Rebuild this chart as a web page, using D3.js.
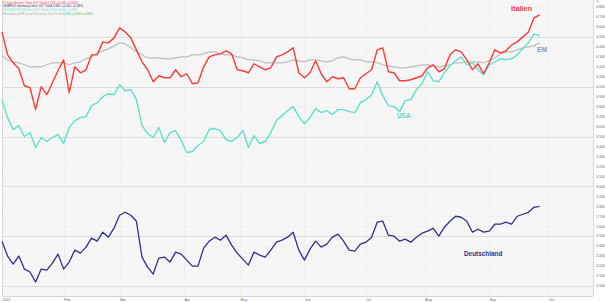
<!DOCTYPE html>
<html><head><meta charset="utf-8">
<script src="https://cdn.jsdelivr.net/npm/d3@7"></script>
<style>html,body{margin:0;padding:0;background:#fff}svg{display:block;font-family:"Liberation Sans",Arial,sans-serif}</style>
</head><body><svg id="c" width="605" height="302"></svg>
<script>
// Values sampled every second business day from 2 Jan 2023
const italy=[4.55,4.32,4.24,4.18,4.01,3.99,3.77,4.00,3.92,4.04,4.16,4.27,3.94,4.20,4.14,4.17,4.32,4.32,4.45,4.44,
4.49,4.59,4.55,4.49,4.37,4.25,4.17,4.05,4.11,4.09,4.09,4.17,4.10,4.13,4.03,4.04,4.20,4.30,4.32,4.33,
4.36,4.33,4.17,4.16,4.14,4.23,4.20,4.17,4.19,4.30,4.32,4.35,4.39,4.14,4.09,4.14,4.26,4.13,4.05,4.10,
4.08,4.09,3.98,3.98,4.09,4.13,4.17,4.37,4.39,4.15,4.14,4.06,4.06,4.07,4.09,4.11,4.19,4.22,4.15,4.18,
4.32,4.37,4.35,4.27,4.17,4.23,4.13,4.24,4.37,4.34,4.36,4.42,4.45,4.50,4.55,4.69,4.72];
const usa=[3.87,3.69,3.57,3.61,3.50,3.54,3.39,3.49,3.45,3.49,3.52,3.43,3.59,3.66,3.69,3.70,3.81,3.84,3.90,3.93,
3.92,4.02,3.96,3.97,3.87,3.61,3.53,3.49,3.59,3.44,3.54,3.56,3.46,3.34,3.35,3.41,3.45,3.57,3.58,3.56,
3.47,3.45,3.49,3.56,3.39,3.51,3.43,3.45,3.54,3.66,3.71,3.76,3.80,3.70,3.63,3.69,3.78,3.74,3.76,3.72,
3.77,3.77,3.75,3.74,3.84,3.87,3.92,4.05,3.91,3.81,3.80,3.75,3.86,3.87,3.97,4.03,4.15,4.06,4.05,4.14,
4.21,4.26,4.30,4.22,4.24,4.17,4.12,4.22,4.25,4.28,4.27,4.28,4.32,4.38,4.44,4.53,4.51];
const em=[4.31,4.27,4.25,4.24,4.22,4.20,4.20,4.20,4.22,4.24,4.24,4.24,4.22,4.24,4.25,4.28,4.30,4.34,4.36,4.38,
4.41,4.44,4.43,4.39,4.35,4.32,4.29,4.29,4.29,4.28,4.28,4.29,4.30,4.30,4.32,4.32,4.33,4.35,4.35,4.33,
4.32,4.32,4.30,4.29,4.27,4.27,4.26,4.24,4.24,4.24,4.24,4.25,4.27,4.26,4.25,4.27,4.27,4.26,4.25,4.26,
4.29,4.30,4.28,4.27,4.27,4.25,4.25,4.24,4.22,4.21,4.20,4.19,4.19,4.20,4.21,4.22,4.22,4.21,4.20,4.21,
4.22,4.24,4.24,4.25,4.25,4.25,4.24,4.26,4.29,4.33,4.35,4.35,4.37,4.39,4.40,4.41,4.44];
const germany=[2.45,2.30,2.22,2.30,2.17,2.14,2.04,2.17,2.16,2.23,2.32,2.17,2.24,2.36,2.33,2.39,2.48,2.45,2.54,2.49,
2.58,2.71,2.74,2.71,2.65,2.29,2.19,2.12,2.28,2.29,2.24,2.34,2.32,2.26,2.20,2.20,2.38,2.45,2.49,2.46,
2.51,2.41,2.33,2.27,2.21,2.34,2.31,2.29,2.36,2.44,2.46,2.49,2.54,2.36,2.26,2.37,2.45,2.39,2.42,2.49,
2.52,2.45,2.36,2.35,2.42,2.44,2.49,2.64,2.65,2.51,2.50,2.45,2.47,2.44,2.49,2.53,2.55,2.58,2.50,2.59,
2.65,2.70,2.69,2.65,2.54,2.57,2.54,2.55,2.62,2.62,2.64,2.62,2.70,2.72,2.74,2.79,2.80];
const monthLabels=["2023","Feb","Mar","Apr","May","Jun","Jul","Aug","Sep","Oct"];
const yTickLabels=["4.800","4.700","4.600","4.500","4.400","4.300","4.200","4.100","4.000","3.900","3.800","3.700","3.600","3.500","3.400","3.300","3.200","3.100","3.000","2.900","2.800","2.700","2.600","2.500","2.400","2.300","2.200","2.100","2.000"];
const majorTicks=["4.500","4.000","3.500","3.000","2.500","2.000"];
const legendNames=["IT Italy Generic Govt 10Y Yield","GDBR10 Germany Govt 10Y Yield","USGG10YR US Govt 10Y Yield","Bloomberg EM Local Currency Govt Yield"];
const legendValues=["4.723  +0.030  +0.64%","2.800  +0.010  +0.36%","4.513  -0.020  -0.44%","4.440  +0.030  +0.68%"];
const seriesNames=["Italien","Deutschland","USA","EM"];
const colors={italy:"#ff3a3a",germany:"#30308c",usa:"#5fe0d0",em:"#bdbdbd",emLabel:"#8d9aab",grid:"#ececec",major:"#dcdcdc"};

const svg=d3.select("#c");
const W=605,H=302,L=2,R=593,T=0,B=296;
// business days
const bdays=[];
for(let d=new Date(2023,0,2);d<=new Date(2023,9,31);d.setDate(d.getDate()+1)){const w=d.getDay();if(w!==0&&w!==6)bdays.push(new Date(d));}
const step=2;
const x=d3.scaleLinear().domain([0,210]).range([L,590]);
const y=d3.scaleLinear().domain([2.0,4.8]).range([286,7]);

svg.append("rect").attr("x",L).attr("y",T).attr("width",R-L).attr("height",B-T).attr("fill","#f6f6f6");
// horizontal grid
svg.append("g").selectAll("line").data(yTickLabels).join("line")
 .attr("x1",L).attr("x2",R).attr("y1",d=>Math.round(y(+d))+0.5).attr("y2",d=>Math.round(y(+d))+0.5)
 .attr("stroke",d=>majorTicks.includes(d)?colors.major:colors.grid).attr("stroke-width",d=>majorTicks.includes(d)?1.2:0.6);
// month ticks
const monthIdx=monthLabels.map((m,mi)=>bdays.findIndex(d=>d.getMonth()===mi));
svg.append("g").selectAll("line").data(monthIdx).join("line")
 .attr("x1",d=>Math.round(x(d))+0.5).attr("x2",d=>Math.round(x(d))+0.5).attr("y1",T).attr("y2",B)
 .attr("stroke","#e4e4e4").attr("stroke-width",0.7).attr("stroke-dasharray","1.5,1.5");
// frame
svg.append("line").attr("x1",L+0.5).attr("x2",L+0.5).attr("y1",T).attr("y2",B).attr("stroke","#d6d6d6");
svg.append("line").attr("x1",R+0.5).attr("x2",R+0.5).attr("y1",T).attr("y2",B).attr("stroke","#d6d6d6");
svg.append("line").attr("x1",L).attr("x2",R).attr("y1",B+0.5).attr("y2",B+0.5).attr("stroke","#d6d6d6");
// axis labels
svg.append("g").selectAll("text").data(yTickLabels).join("text")
 .attr("x",596).attr("y",d=>y(+d)+1.3).attr("font-size",3.6).attr("fill","#666").text(d=>d);
svg.append("text").attr("x",596).attr("y",3).attr("font-size",3.2).attr("fill","#888").text("%");
svg.append("g").selectAll("text").data(monthIdx).join("text")
 .attr("x",(d,i)=>x(d)+(i===0?0.5:0.5)).attr("y",300.5).attr("font-size",3.6).attr("fill","#666").text((d,i)=>monthLabels[i]);

const line=d3.line().x((d,i)=>x(i*step)).y(d=>y(d)).curve(d3.curveLinear);
function draw(data,color,w){svg.append("path").datum(data).attr("d",line).attr("fill","none").attr("stroke",color).attr("stroke-width",w).attr("stroke-linejoin","round");}
draw(em,colors.em,1.2);
draw(usa,colors.usa,1.4);
draw(italy,colors.italy,1.4);
draw(germany,colors.germany,1.3);

// series labels
svg.append("text").attr("x",511).attr("y",11).attr("font-size",7.3).attr("font-weight","bold").attr("fill",colors.italy).text(seriesNames[0]);
svg.append("text").attr("x",464).attr("y",256).attr("font-size",6.4).attr("font-weight","bold").attr("fill",colors.germany).text(seriesNames[1]);
svg.append("text").attr("x",397).attr("y",118).attr("font-size",6.4).attr("font-weight","bold").attr("fill","#55d6c6").text(seriesNames[2]);
svg.append("text").attr("x",537).attr("y",52).attr("font-size",6.6).attr("font-weight","bold").attr("fill",colors.emLabel).text(seriesNames[3]);

// legend
const legColors=[colors.italy,colors.germany,colors.usa,"#aaaaaa"];
const valColors=[colors.italy,colors.germany,colors.usa,"#39c24a"];
legendNames.forEach((n,i)=>{
  const t=svg.append("text").attr("x",3).attr("y",3.6+i*3.8).attr("font-size",3.2);
  t.append("tspan").attr("fill",legColors[i]).text(n+"  ");
  t.append("tspan").attr("fill",valColors[i]).text(legendValues[i]);
});
</script></body></html>
